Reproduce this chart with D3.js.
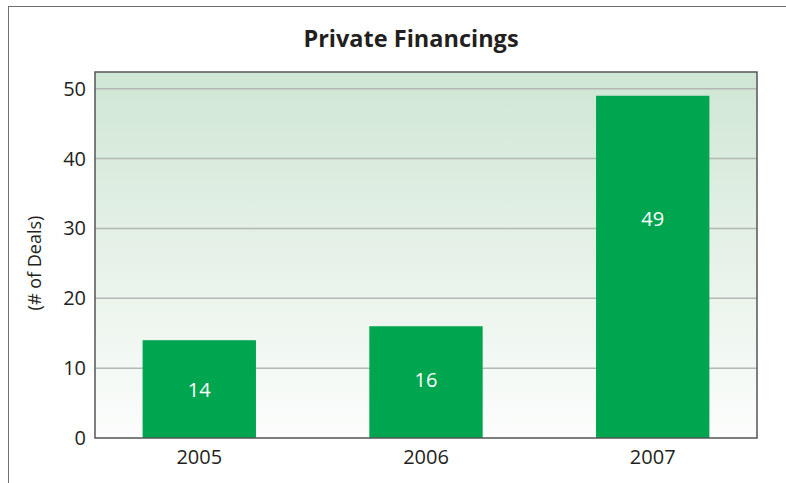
<!DOCTYPE html>
<html>
<head>
<meta charset="utf-8">
<script src="https://cdn.jsdelivr.net/npm/d3@7"></script>
<style>
  html, body { margin: 0; padding: 0; background: #fff; }
  svg { display: block; font-family: "Open Sans", "Noto Sans", sans-serif; }
</style>
</head>
<body>
<div id="chart"></div>
<script>
  // chart data
  const years = ['2005', '2006', '2007'];
  const deals = [14, 16, 49];
  const yTicks = [0, 10, 20, 30, 40, 50];

  const W = 786, H = 483;
  const plot = { left: 95, top: 72, right: 757, bottom: 438 };

  const svg = d3.select('#chart').append('svg')
    .attr('width', W)
    .attr('height', H);

  // outer frame (runs off the right / bottom edge)
  svg.append('rect')
    .attr('x', 8.5).attr('y', 6.5)
    .attr('width', W).attr('height', H)
    .attr('fill', 'none')
    .attr('stroke', '#6e6e6e')
    .attr('stroke-width', 1);

  const defs = svg.append('defs');
  const grad = defs.append('linearGradient')
    .attr('id', 'bg').attr('x1', 0).attr('y1', 0).attr('x2', 0).attr('y2', 1);
  grad.append('stop').attr('offset', '0%').attr('stop-color', '#cfe6d4');
  grad.append('stop').attr('offset', '100%').attr('stop-color', '#fcfdfc');

  const y = d3.scaleLinear()
    .domain([0, 52.4])
    .range([plot.bottom, plot.top]);

  const x = d3.scaleBand()
    .domain(years)
    .range([plot.left, plot.right])
    .paddingInner(0.5)
    .paddingOuter(0.21);

  svg.append('rect')
    .attr('x', plot.left).attr('y', plot.top)
    .attr('width', plot.right - plot.left)
    .attr('height', plot.bottom - plot.top)
    .attr('fill', 'url(#bg)');

  // gridlines
  svg.append('g')
    .selectAll('line')
    .data(yTicks.filter(d => d > 0))
    .join('line')
    .attr('x1', plot.left).attr('x2', plot.right)
    .attr('y1', d => y(d)).attr('y2', d => y(d))
    .attr('stroke', '#b5b7b5')
    .attr('stroke-width', 1.5);

  // bars
  svg.append('g')
    .selectAll('rect')
    .data(deals)
    .join('rect')
    .attr('x', (d, i) => x(years[i]))
    .attr('y', d => y(d))
    .attr('width', x.bandwidth())
    .attr('height', d => y(0) - y(d))
    .attr('fill', '#00a64f');

  // value labels inside bars
  svg.append('g')
    .selectAll('text')
    .data(deals)
    .join('text')
    .attr('x', (d, i) => x(years[i]) + x.bandwidth() / 2)
    .attr('y', d => y(d) + (y(0) - y(d)) * 0.3 + 20)
    .attr('text-anchor', 'middle')
    .attr('dominant-baseline', 'central')
    .attr('fill', '#fff')
    .style('font-size', '20px')
    .text(d => d);

  // plot border
  svg.append('rect')
    .attr('x', plot.left).attr('y', plot.top)
    .attr('width', plot.right - plot.left)
    .attr('height', plot.bottom - plot.top)
    .attr('fill', 'none')
    .attr('stroke', '#555')
    .attr('stroke-width', 1.5);

  // y axis
  const yAxis = svg.append('g')
    .attr('transform', `translate(${plot.left},0)`)
    .call(d3.axisLeft(y).tickValues(yTicks).tickSize(0).tickPadding(9));
  yAxis.select('.domain').remove();
  yAxis.selectAll('text')
    .attr('fill', '#231f20')
    .style('font-size', '20px')
    .style('font-family', '"Open Sans", sans-serif');

  // x axis
  const xAxis = svg.append('g')
    .attr('transform', `translate(0,${plot.bottom})`)
    .call(d3.axisBottom(x).tickSize(0).tickPadding(12));
  xAxis.select('.domain').remove();
  xAxis.selectAll('text')
    .attr('fill', '#231f20')
    .style('font-size', '20px')
    .style('font-family', '"Open Sans", sans-serif');

  // title
  svg.append('text')
    .attr('x', 411).attr('y', 47)
    .attr('text-anchor', 'middle')
    .attr('fill', '#231f20')
    .style('font-size', '23.5px')
    .style('font-weight', 'bold')
    .text('Private Financings');

  // y axis label
  svg.append('text')
    .attr('transform', `translate(41,${(plot.top + plot.bottom) / 2 + 8}) rotate(-90)`)
    .attr('text-anchor', 'middle')
    .attr('fill', '#231f20')
    .style('font-size', '18px')
    .text('(# of Deals)');
</script>
</body>
</html>
